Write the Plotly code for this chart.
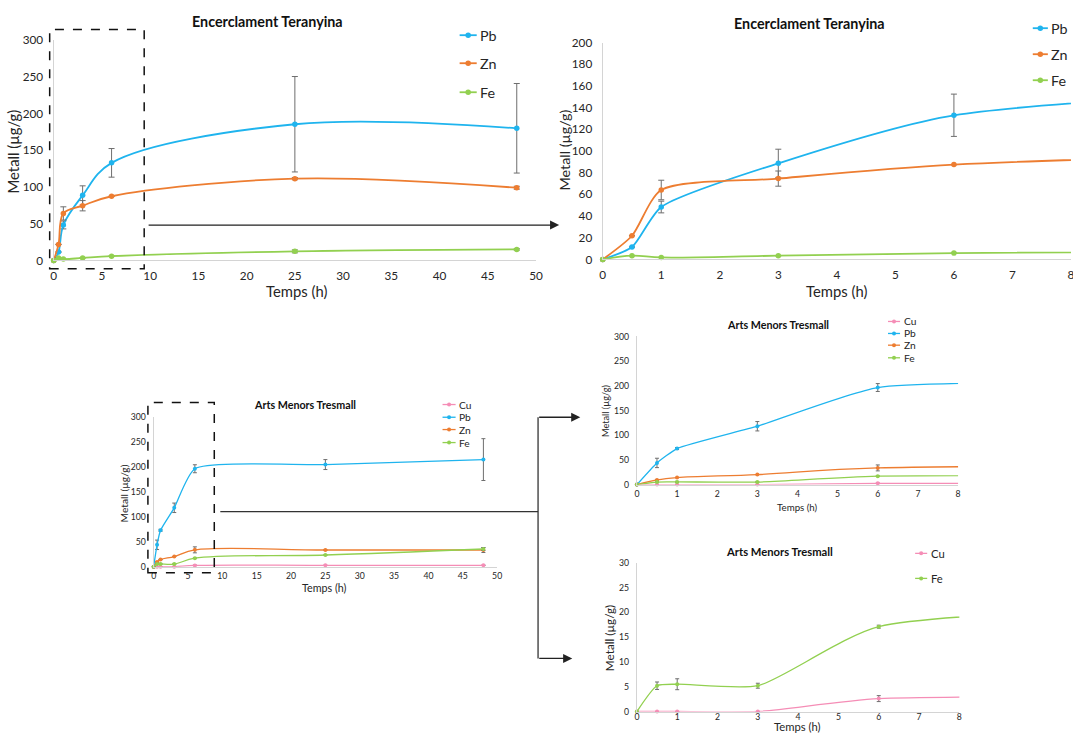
import plotly.graph_objects as go

# --- Encerclament Teranyina ---------------------------------------------
t_ter = [0, 0.5, 1, 3, 6, 25, 48]
pb_ter = [0, 11.4, 48.3, 88.6, 132.9, 185.5, 180]
pb_ter_err = [0, 0, 5.4, 13, 19.5, 65, 61]
zn_ter = [0, 21.8, 64, 74.5, 87.4, 111.4, 99]
zn_ter_err = [0, 0, 9, 7, 0, 1.5, 2]
fe_ter = [0, 3.4, 1.8, 3.4, 5.8, 12.3, 15]
fe_ter_err = [0, 0, 0, 0, 0, 2, 1]

# --- Arts Menors Tresmall -----------------------------------------------
t_tre = [0, 0.5, 1, 3, 6, 25, 48]
cu_tre = [0, 0, 0, 0, 2.6, 2.7, 2.8]
cu_tre_err = [0, 0, 0, 0, 0.6, 0, 0]
pb_tre = [0, 43.9, 73, 118.2, 196.6, 205, 215]
pb_tre_err = [0, 9.5, 2, 9.5, 8, 10, 42]
zn_tre = [0, 9.5, 14.2, 20.3, 33.8, 33.5, 33.5]
zn_tre_err = [0, 0, 0, 0, 6, 0, 5]
fe_tre = [0, 5.2, 5.5, 5.2, 17.1, 23.4, 35.5]
fe_tre_err = [0, 0.75, 1.1, 0.5, 0.3, 0, 3]

title_ter = "Encerclament Teranyina"
title_tre = "Arts Menors Tresmall"
x_title = "Temps (h)"
y_title = "Metall (µg/g)"

COL = {"Cu": "#F58DB6", "Pb": "#1FB4EE", "Zn": "#ED7D31", "Fe": "#92D050"}
AXIS_GRAY = "#D4D4D4"
ERR_GRAY = "#6E6E6E"
TXT = "#262626"
FONT = "Lato, 'Open Sans', sans-serif"

ter = {"Pb": (pb_ter, pb_ter_err), "Zn": (zn_ter, zn_ter_err), "Fe": (fe_ter, fe_ter_err)}
tre = {"Cu": (cu_tre, cu_tre_err), "Pb": (pb_tre, pb_tre_err),
       "Zn": (zn_tre, zn_tre_err), "Fe": (fe_tre, fe_tre_err)}

# Positions below are written in a 1073x736 sheet grid.  The figure sits in
# an HTML body with its default 8px margin inside a 1089x752 page, so sheet
# pixels are stretched to page pixels and shifted by that margin.
SHEET_W, SHEET_H = 1073, 736
PAGE_W, PAGE_H = 1089, 752
INSET = 8
SX, SY = PAGE_W / SHEET_W, PAGE_H / SHEET_H
FW, FH = PAGE_W - INSET, PAGE_H - 2 * INSET


def px(v):
    return (v * SX - INSET) / FW


def py(v):
    return 1 - (v * SY - INSET) / FH


def fs(v):
    return round(v * SY, 2)


fig = go.Figure()

# panel layout: sheet-pixel frame of each plot area and its axis ranges
panels = [
    dict(x0=58.3, x1=538.0, y0=260.0, y1=40.0, xr=[0, 50], xd=5, yr=[0, 300], yd=50,
         tick=11.5, xstd=4, ystd=7, lw=1.8, ms=5.5, ew=3, smooth={},
         title=title_ter, tpos=(271, 21), tsize=14,
         ytpos=(18, 151), ytsize=14.5, xtpos=(300, 291), xtsize=14.5,
         data=ter, t=t_ter, keys=["Pb", "Zn", "Fe"],
         leg=dict(xl=462, xr=479, ys=[35, 63, 92], size=14)),
    dict(x0=604.3, x1=1070.0, y0=259.0, y1=42.3, xr=[0, 8], xd=1, yr=[0, 200], yd=20,
         tick=11.5, xstd=4, ystd=7, lw=1.8, ms=5.5, ew=3, smooth={"Pb": 0.65, "Zn": 0.7},
         title=title_ter, tpos=(810, 23), tsize=14,
         ytpos=(566, 150), ytsize=14, xtpos=(837, 291), xtsize=14.5,
         data=ter, t=t_ter, keys=["Pb", "Zn", "Fe"],
         leg=dict(xl=1032, xr=1047, ys=[28, 54, 80], size=14)),
    dict(x0=157.7, x1=499.3, y0=566.0, y1=416.7, xr=[0, 50], xd=5, yr=[0, 300], yd=50,
         tick=8.5, xstd=1, ystd=5, lw=1.3, ms=4, ew=2, smooth={"Pb": 0.55},
         title=title_tre, tpos=(308, 404), tsize=10.5,
         ytpos=(128, 493), ytsize=10, xtpos=(328, 587), xtsize=10.5,
         data=tre, t=t_tre, keys=["Cu", "Pb", "Zn", "Fe"],
         leg=dict(xl=445, xr=458, ys=[404, 416.7, 429, 442], size=10)),
    dict(x0=638.3, x1=957.7, y0=484.0, y1=336.0, xr=[0, 8], xd=1, yr=[0, 300], yd=50,
         tick=8.5, xstd=1, ystd=5, lw=1.3, ms=4, ew=2, smooth={"Pb": 0.45, "Fe": 0.7},
         title=title_tre, tpos=(779, 324), tsize=10.5,
         ytpos=(607, 410), ytsize=9, xtpos=(798, 506), xtsize=9.5,
         data=tre, t=t_tre, keys=["Cu", "Pb", "Zn", "Fe"],
         leg=dict(xl=888, xr=900, ys=[321, 333, 344.7, 357.3], size=10)),
    dict(x0=638.3, x1=959.0, y0=710.7, y1=562.0, xr=[0, 8], xd=1, yr=[0, 30], yd=5,
         tick=8.5, xstd=-3, ystd=5, lw=1.3, ms=4, ew=2, smooth={"Fe": 0.6, "Cu": 0.6},
         title=title_tre, tpos=(780, 551), tsize=11,
         ytpos=(611, 637), ytsize=11.5, xtpos=(798, 725.5), xtsize=11,
         data=tre, t=t_tre, keys=["Cu", "Fe"],
         leg=dict(xl=915, xr=927, ys=[552.7, 577.7], size=11)),
]

layout_axes = {}
annotations = []
shapes = []

for i, p in enumerate(panels, start=1):
    sx = "" if i == 1 else str(i)
    xa, ya = "x" + sx, "y" + sx
    layout_axes["xaxis" + sx] = dict(
        domain=[px(p["x0"]), px(p["x1"])], range=p["xr"], dtick=p["xd"], tick0=0,
        anchor=ya, showgrid=False, zeroline=False, showline=True,
        linecolor=AXIS_GRAY, linewidth=1.3, ticks="", ticklabelstandoff=p["xstd"],
        tickfont=dict(size=fs(p["tick"]), color=TXT, family=FONT), fixedrange=True)
    layout_axes["yaxis" + sx] = dict(
        domain=[py(p["y0"]), py(p["y1"])], range=p["yr"], dtick=p["yd"], tick0=0,
        anchor=xa, showgrid=False, zeroline=False, showline=True,
        linecolor=AXIS_GRAY, linewidth=1.3, ticks="", ticklabelstandoff=p["ystd"],
        tickfont=dict(size=fs(p["tick"]), color=TXT, family=FONT), fixedrange=True)

    for k in p["keys"]:
        vals, errs = p["data"][k]
        fig.add_trace(go.Scatter(
            x=p["t"], y=vals, mode="lines+markers", name=k, showlegend=False,
            xaxis=xa, yaxis=ya, cliponaxis=False,
            line=dict(color=COL[k], width=p["lw"], shape="spline",
                      smoothing=p["smooth"].get(k, 1.0)),
            marker=dict(size=p["ms"], color=COL[k]),
            error_y=dict(type="data", array=errs, visible=True, color=ERR_GRAY,
                         thickness=1, width=p["ew"])))

    # titles
    annotations.append(dict(text="<b>" + p["title"] + "</b>", x=px(p["tpos"][0]), y=py(p["tpos"][1]),
                            xref="paper", yref="paper", showarrow=False,
                            xanchor="center", yanchor="middle",
                            font=dict(size=fs(p["tsize"]), color="#111", family=FONT)))
    annotations.append(dict(text=y_title, x=px(p["ytpos"][0]), y=py(p["ytpos"][1]),
                            xref="paper", yref="paper", showarrow=False, textangle=-90,
                            xanchor="center", yanchor="middle",
                            font=dict(size=fs(p["ytsize"]), color=TXT, family=FONT)))
    annotations.append(dict(text=x_title, x=px(p["xtpos"][0]), y=py(p["xtpos"][1]),
                            xref="paper", yref="paper", showarrow=False,
                            xanchor="center", yanchor="middle",
                            font=dict(size=fs(p["xtsize"]), color=TXT, family=FONT)))

    # legend entries: short line with a dot, then the label
    lg = p["leg"]
    r = p["ms"] / 2.0
    for k, yy in zip(p["keys"], lg["ys"]):
        shapes.append(dict(type="line", xref="paper", yref="paper",
                           x0=px(lg["xl"]), x1=px(lg["xr"]), y0=py(yy), y1=py(yy),
                           line=dict(color=COL[k], width=p["lw"])))
        cx = (lg["xl"] + lg["xr"]) / 2
        shapes.append(dict(type="circle", xref="paper", yref="paper",
                           x0=px(cx - r), x1=px(cx + r), y0=py(yy - r), y1=py(yy + r),
                           fillcolor=COL[k], line=dict(width=0)))
        annotations.append(dict(text=k, x=px(lg["xr"] + 1.5), y=py(yy), xref="paper", yref="paper",
                                showarrow=False, xanchor="left", yanchor="middle",
                                font=dict(size=fs(lg["size"]), color=TXT, family=FONT)))

# zoom windows on the full-time charts
for (a, b, c, d) in [(54.3, 29.3, 148.3, 268.3), (152.0, 402.0, 218.0, 572.0)]:
    shapes.append(dict(type="rect", xref="paper", yref="paper",
                       x0=px(a), x1=px(c), y0=py(d), y1=py(b),
                       line=dict(color="#111", width=1.5, dash="dash"), fillcolor="rgba(0,0,0,0)"))

# connector lines
for (a, b, c, d) in [(224.0, 511.0, 540.0, 511.0), (540.0, 416.7, 540.0, 657.7)]:
    shapes.append(dict(type="line", xref="paper", yref="paper",
                       x0=px(a), x1=px(c), y0=py(b), y1=py(d),
                       line=dict(color="#333", width=1.3)))

# arrows (head, tail)
for (hx, hy, tx, ty) in [(561.0, 224.7, 155.0, 224.7), (582.0, 416.7, 540.0, 416.7),
                         (574.0, 657.7, 540.0, 657.7)]:
    annotations.append(dict(text="", x=px(hx), y=py(hy), xref="paper", yref="paper",
                            ax=(tx - hx) * SX, ay=(ty - hy) * SY, axref="pixel", ayref="pixel",
                            showarrow=True, arrowhead=2, arrowsize=1.4, arrowwidth=1.3,
                            arrowcolor="#222", standoff=0, startstandoff=0))

fig.update_layout(
    width=FW, height=FH, margin=dict(l=0, r=0, t=0, b=0),
    paper_bgcolor="white", plot_bgcolor="white", showlegend=False,
    font=dict(family=FONT, color=TXT),
    annotations=annotations, shapes=shapes, **layout_axes)

fig.write_html("out.html", config={"displayModeBar": False})
